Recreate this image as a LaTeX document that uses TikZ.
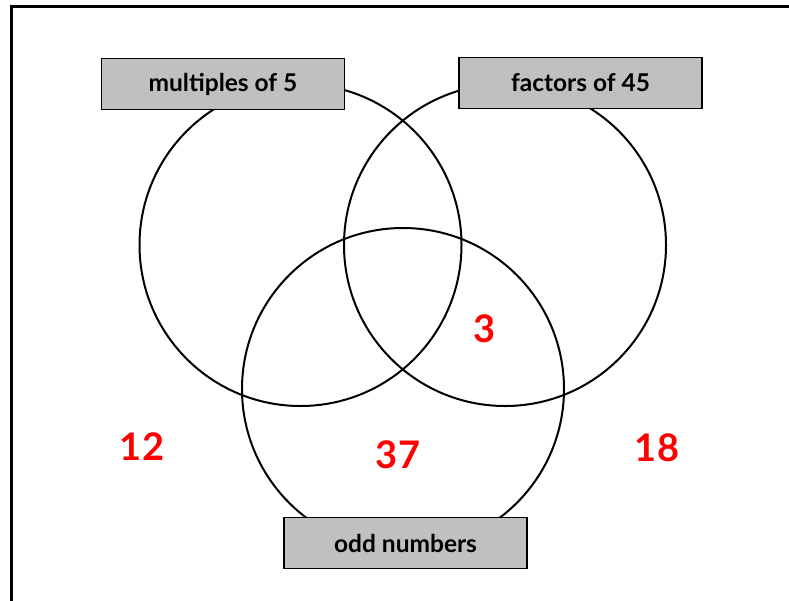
\documentclass[tikz,border=0pt]{standalone}
\usepackage{fontspec}
\setmainfont{Lato}
\usepackage{tikz}
\usetikzlibrary{positioning, backgrounds}
\usepackage{xcolor}
\definecolor{cBox}{RGB}{192,192,192}
\definecolor{cNum}{RGB}{255,0,0}
\tikzset{
  setcircle/.style={circle, draw=black, line width=2pt, minimum size=322pt,
                    inner sep=0pt},
  setlabel/.style={rectangle, draw=black, fill=cBox, line width=1.5pt,
                   minimum width=243pt, minimum height=51pt,
                   font=\fontsize{24.5}{28}\selectfont\bfseries},
  regionnum/.style={text=cNum, font=\fontsize{38}{42}\selectfont\bfseries}
}
\begin{document}
\begin{tikzpicture}[x=1pt, y=-1pt]

  \useasboundingbox (0,0) rectangle (789,600);

  % ── Frame ──
  \draw[line width=3pt] (11.5,601) -- (11.5,6) -- (790,6);

  % ── Sets ──
  \node[setcircle] (mult) at (300.5,245) {};
  \node[setcircle] (fact) at (505,245) {};
  \node[setcircle] (odd)  at (403,389) {};

  % ── Labels ──
  \node[setlabel] (multlab) at (223,84)  {multiples of 5};
  \node[setlabel] (factlab) at (580.5,83) {factors of 45};
  \node[setlabel] (oddlab)  at (405.5,543) {odd numbers};

  % ── Numbers ──
  \node[regionnum] (n3)  at (485,329) {3};
  \node[regionnum] (n12) at (142,447) {12};
  \node[regionnum] (n37) at (398,455) {37};
  \node[regionnum] (n18) at (657,448) {18};

\end{tikzpicture}
\end{document}
